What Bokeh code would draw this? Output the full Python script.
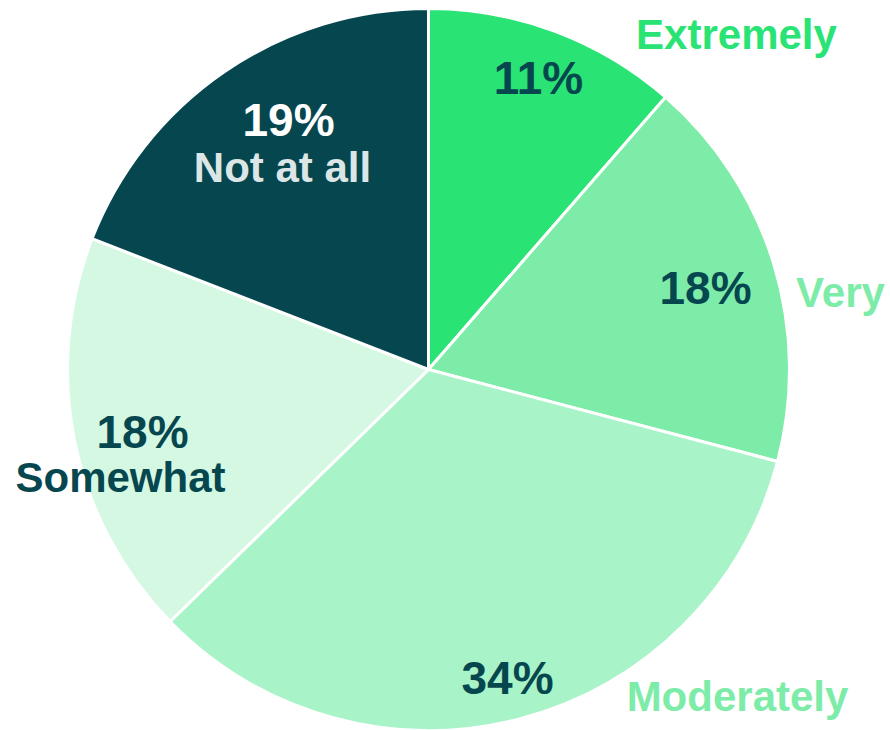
import math
from bokeh.plotting import figure
from bokeh.models import Range1d, ColumnDataSource
from bokeh.core.properties import value
from bokeh.embed import file_html
from bokeh.resources import INLINE

# ---------------- data ----------------
categories = ["Extremely", "Very", "Moderately", "Somewhat", "Not at all"]
shares = [11.4, 17.7, 33.6, 18.2, 19.1]
pct_labels = ["11%", "18%", "34%", "18%", "19%"]

# ---------------- style ----------------
slice_colors = ["#29e374", "#7deca8", "#a8f3c7", "#d4f8e2", "#06474f"]
pct_colors = ["#06474f", "#06474f", "#06474f", "#06474f", "#ffffff"]
cat_colors = ["#29e374", "#7deca8", "#7deca8", "#06474f", "#dce6e6"]
FONT = "Liberation Sans"

W, H = 890, 730
CX, CY_SCREEN, R = 428, 369, 361
BASE_SHIFT = 16  # renderer places baseline lower than requested

# label layout (screen pixels: center x, baseline y)
pct_pos = [(538, 93), (705, 303), (507, 693), (142, 447), (288, 135)]
cat_pos = [(736, 50), (840, 308), (737, 712), (120, 493), (282, 183)]

# ---------------- build ----------------
total = sum(shares)
starts, ends = [], []
cum = 0.0
for s in shares:
    a0 = math.pi / 2 - 2 * math.pi * cum / total
    cum += s
    a1 = math.pi / 2 - 2 * math.pi * cum / total
    starts.append(a0)
    ends.append(a1)

src = ColumnDataSource(dict(
    x=[CX] * len(shares), y=[H - CY_SCREEN] * len(shares),
    start=starts, end=ends, color=slice_colors, cat=categories))

p = figure(width=W, height=H, output_backend="svg", toolbar_location=None,
           x_range=Range1d(0, W), y_range=Range1d(0, H),
           min_border=0, outline_line_color=None)
p.axis.visible = False
p.grid.visible = False
p.background_fill_color = "white"
p.border_fill_color = "white"

p.wedge(x="x", y="y", radius=R, start_angle="start", end_angle="end",
        direction="clock", fill_color="color", line_color="white",
        line_width=3, source=src)

p.text(x=[q[0] for q in pct_pos], y=[H - q[1] + BASE_SHIFT for q in pct_pos], text=pct_labels,
       text_color=pct_colors, text_font=value(FONT), text_font_style="bold",
       text_font_size="46px", text_align="center", text_baseline="alphabetic")

p.text(x=[q[0] for q in cat_pos], y=[H - q[1] + BASE_SHIFT for q in cat_pos], text=categories,
       text_color=cat_colors, text_font=value(FONT), text_font_style="bold",
       text_font_size="42px", text_align="center", text_baseline="alphabetic")

open("out.html", "w").write(file_html(p, INLINE))
